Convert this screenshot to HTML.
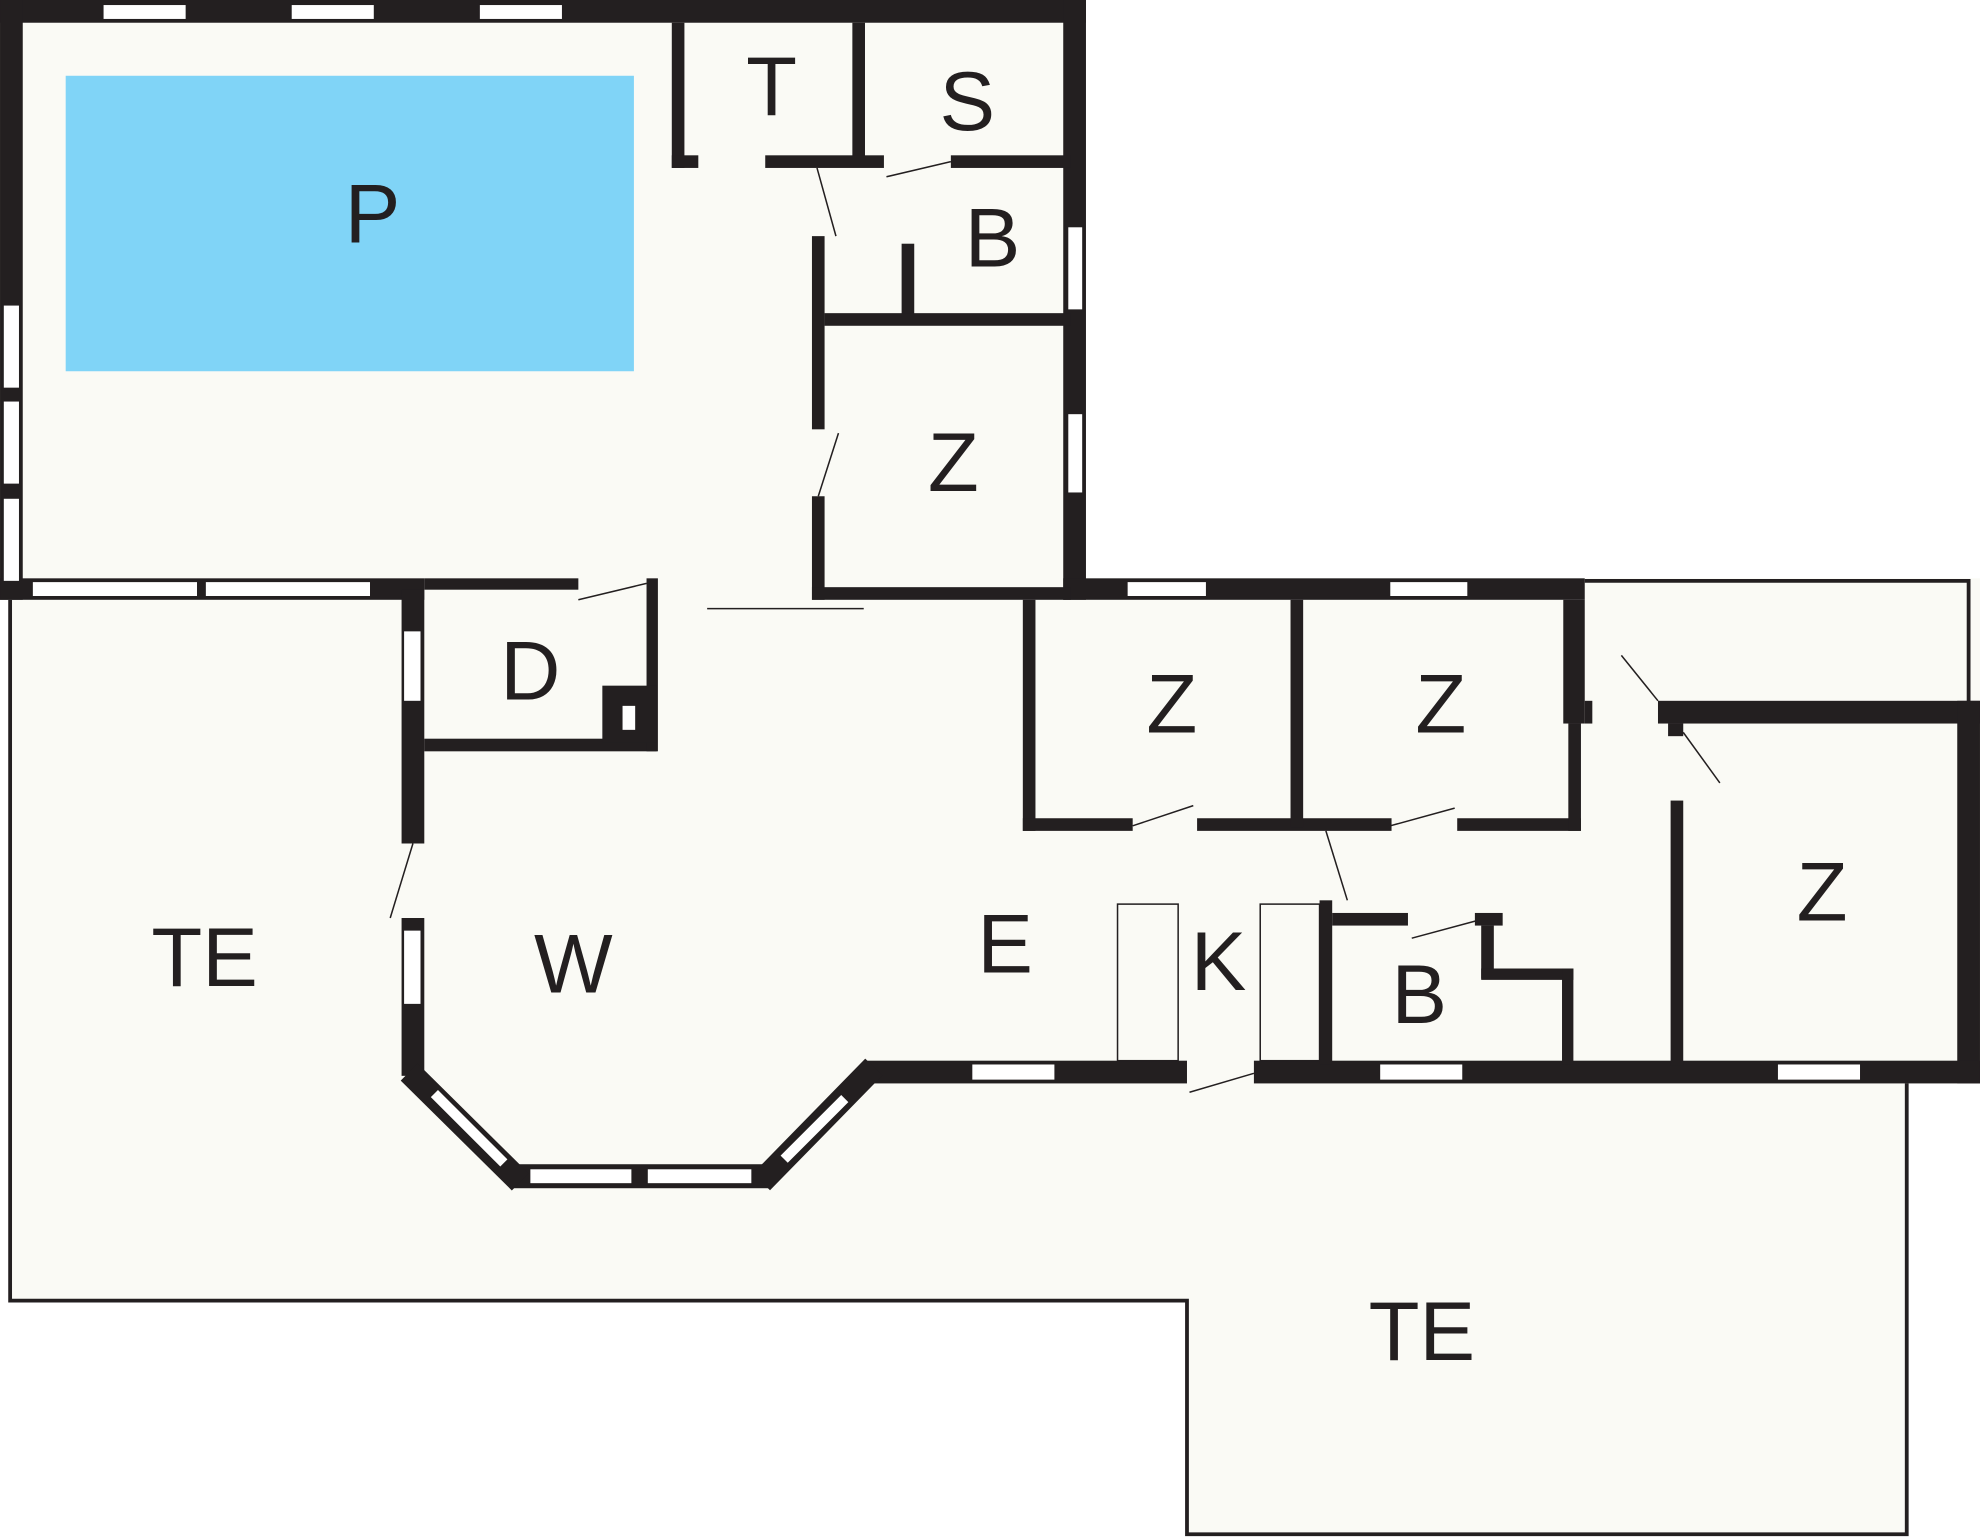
<!DOCTYPE html>
<html><head><meta charset="utf-8"><style>
html,body{margin:0;padding:0;background:#fff;}
svg{display:block;}
text{font-family:"Liberation Sans",sans-serif;font-size:66px;fill:#231f20;text-anchor:middle;}
</style></head><body>
<svg width="1980" height="1538" viewBox="0 0 1568 1218" xmlns="http://www.w3.org/2000/svg">
<polygon points="8,470 330,470 330,858 1510,858 1510,1215 940,1215 940,1030 8,1030" fill="#fafaf5"/>
<polyline points="8,475 8,1030 940,1030 940,1215 1510,1215 1510,858" fill="none" stroke="#231f20" stroke-width="3"/>
<rect x="0" y="0" width="860" height="475" fill="#fafaf5"/>
<rect x="318" y="458" width="1250" height="400" fill="#fafaf5"/>
<rect x="1255" y="460" width="304" height="100" fill="#fafaf5"/>
<polyline points="1255,460 1559,460 1559,556" fill="none" stroke="#231f20" stroke-width="3"/>
<rect x="52" y="60" width="450" height="234" fill="#80d4f7"/>
<g fill="#231f20">
<rect x="0" y="0" width="860" height="18"/>
<rect x="0" y="0" width="18" height="475"/>
<rect x="842" y="0" width="18" height="475"/>
<rect x="0" y="458" width="336" height="17"/>
<rect x="336" y="458" width="122" height="9"/>
<rect x="842" y="458" width="413" height="17"/>
<rect x="1313" y="555" width="255" height="18"/>
<rect x="1550" y="555" width="18" height="303"/>
<rect x="685" y="840" width="255" height="18"/>
<rect x="993" y="840" width="575" height="18"/>
<rect x="405" y="922" width="205" height="19"/>
<rect x="318" y="727" width="18" height="125"/>
<rect x="318" y="467" width="18" height="201"/>
<rect x="336" y="585" width="184" height="10"/>
<rect x="512" y="458" width="9" height="137"/>
<rect x="477" y="543" width="43" height="45"/>
<rect x="532" y="18" width="10" height="115"/>
<rect x="532" y="123" width="21" height="10"/>
<rect x="675" y="18" width="10" height="110"/>
<rect x="606" y="123" width="94" height="10"/>
<rect x="753" y="123" width="95" height="10"/>
<rect x="643" y="187" width="10" height="153"/>
<rect x="714" y="193" width="10" height="60"/>
<rect x="653" y="248" width="195" height="10"/>
<rect x="643" y="393" width="10" height="82"/>
<rect x="643" y="465" width="205" height="10"/>
<rect x="810" y="475" width="10" height="183"/>
<rect x="810" y="648" width="87" height="10"/>
<rect x="948" y="648" width="154" height="10"/>
<rect x="1154" y="648" width="98" height="10"/>
<rect x="1022" y="475" width="10" height="180"/>
<rect x="1238" y="475" width="17" height="98"/>
<rect x="1255" y="555" width="6" height="18"/>
<rect x="1242" y="573" width="10" height="85"/>
<rect x="1321" y="573" width="12" height="10"/>
<rect x="1323" y="634" width="10" height="210"/>
<rect x="1045" y="713" width="10" height="130"/>
<rect x="1055" y="723" width="60" height="10"/>
<rect x="1168" y="723" width="22" height="10"/>
<rect x="1173" y="733" width="10" height="42"/>
<rect x="1173" y="767" width="73" height="9"/>
<rect x="1237" y="767" width="9" height="76"/>
</g>
<g stroke="#231f20" stroke-width="19" stroke-linecap="butt">
<line x1="324" y1="849" x2="412" y2="936"/>
<line x1="692" y1="845" x2="603" y2="936"/>
</g>
<g stroke="#fff" stroke-width="8">
<line x1="344" y1="866" x2="399" y2="921"/>
<line x1="669" y1="870" x2="621" y2="918"/>
</g>
<g fill="#fff">
<rect x="82" y="4" width="65" height="11"/><rect x="231" y="4" width="65" height="11"/><rect x="380" y="4" width="65" height="11"/>
<rect x="3" y="242" width="12" height="65"/><rect x="3" y="318" width="12" height="65"/><rect x="3" y="395" width="12" height="65"/>
<rect x="846" y="180" width="11" height="65"/><rect x="846" y="328" width="11" height="62"/>
<rect x="26" y="461" width="130" height="11"/><rect x="163" y="461" width="130" height="11"/>
<rect x="893" y="461" width="62" height="11"/><rect x="1101" y="461" width="61" height="11"/>
<rect x="770" y="843" width="65" height="12"/><rect x="1093" y="843" width="65" height="12"/><rect x="1408" y="843" width="65" height="12"/>
<rect x="420" y="926" width="80" height="11"/><rect x="513" y="926" width="82" height="11"/>
<rect x="320" y="500" width="13" height="55"/><rect x="320" y="737" width="13" height="58"/>
<rect x="493" y="559" width="10" height="19"/>
</g>
<g stroke="#231f20" stroke-width="1.2" fill="none">
<line x1="560" y1="482" x2="684" y2="482"/>
<line x1="702" y1="140" x2="753" y2="128"/>
<line x1="647" y1="133" x2="662" y2="187"/>
<line x1="648" y1="393" x2="664" y2="343"/>
<line x1="458" y1="475" x2="512" y2="462"/>
<line x1="327" y1="668" x2="309" y2="727"/>
<line x1="897" y1="654" x2="945" y2="638"/>
<line x1="1101" y1="654" x2="1152" y2="640"/>
<line x1="1050" y1="658" x2="1067" y2="713"/>
<line x1="1118" y1="743" x2="1170" y2="729"/>
<line x1="1284" y1="519" x2="1313" y2="555"/>
<line x1="1333" y1="580" x2="1362" y2="620"/>
<line x1="942" y1="865" x2="993" y2="850"/>
<rect x="885" y="716" width="48" height="124"/>
<rect x="998" y="716" width="47" height="124"/>
</g>
<text x="295" y="192">P</text>
<text x="611" y="91">T</text>
<text x="766" y="103">S</text>
<text x="786" y="211">B</text>
<text x="755" y="389">Z</text>
<text x="420" y="554">D</text>
<text x="928" y="580">Z</text>
<text x="1141" y="580">Z</text>
<text x="1443" y="729">Z</text>
<text x="162" y="781">TE</text>
<text x="454" y="786">W</text>
<text x="796" y="770">E</text>
<text x="965" y="784">K</text>
<text x="1124" y="810">B</text>
<text x="1126" y="1077">TE</text>
</svg>
</body></html>
